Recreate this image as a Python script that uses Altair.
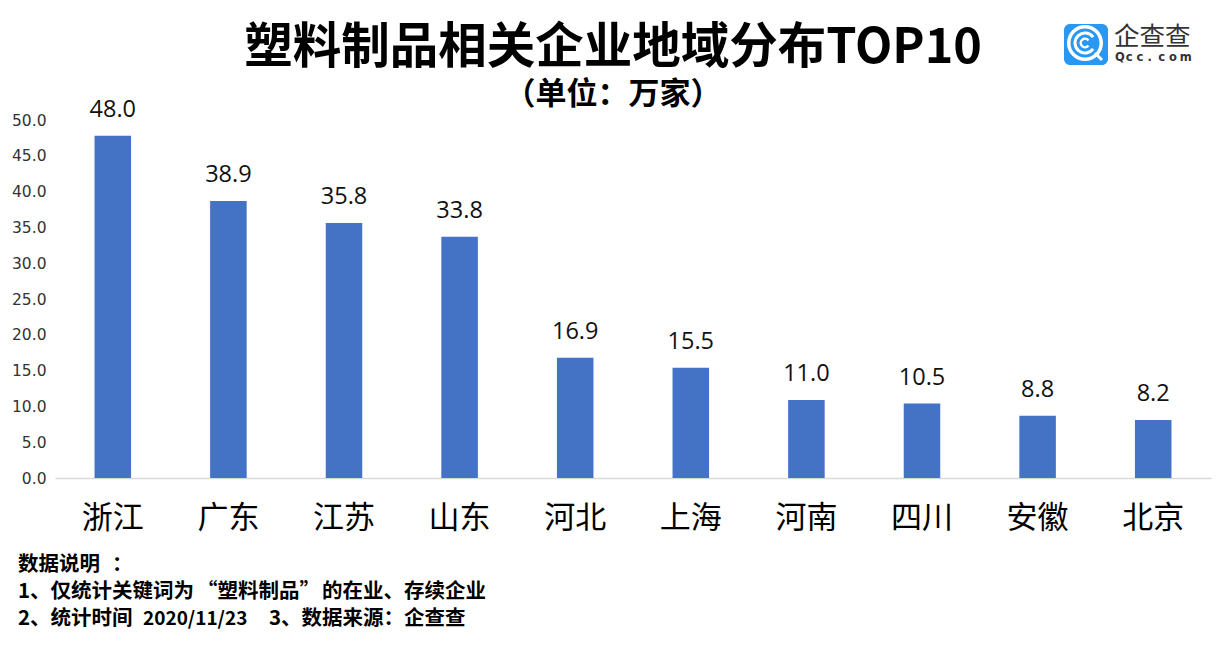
import altair as alt
import math
import pandas as pd

provinces = ["浙江", "广东", "江苏", "山东", "河北", "上海", "河南", "四川", "安徽", "北京"]
bar_values = [47.8, 38.7, 35.6, 33.7, 16.8, 15.4, 10.9, 10.4, 8.7, 8.1]
labels = ["48.0", "38.9", "35.8", "33.8", "16.9", "15.5", "11.0", "10.5", "8.8", "8.2"]
y_ticks = [0, 5, 10, 15, 20, 25, 30, 35, 40, 45, 50]
title_text = "塑料制品相关企业地域分布TOP10"
subtitle_text = "（单位：万家）"
note_pieces = [
    ("数据说明", -37, 445, "left", 20.5), ("：", 57, 445, "left", 20.5),
    ("1、仅统计关键词为", -37, 472, "left", 20.5), ("“塑", 183, 472, "right", 20.5), ("料制品”", 183, 472, "left", 20.5),
    ("的在业、存续企业", 267, 472, "left", 20.5),
    ("2、统计时间", -37, 499, "left", 20.5), ("2020/11/23", 88, 499, "left", 19), ("3、数据来源：企查查", 214, 499, "left", 20.5),
]
url_chars = list("Qcc.com")

CJK = "Noto Sans CJK SC"
df = pd.DataFrame({"province": provinces, "value": bar_values, "label": labels})

x = alt.X("province:N", sort=provinces, title=None,
          scale=alt.Scale(paddingInner=0.684, paddingOuter=0.342),
          axis=alt.Axis(labelAngle=0, labelFont=CJK, labelFontSize=31, labelColor="#000000",
                        labelPadding=25, ticks=False, domainColor="#d9d9d9", domainWidth=1.5, grid=False))
y = alt.Y("value:Q", title=None,
          scale=alt.Scale(domain=[0, 50], nice=False),
          axis=alt.Axis(values=y_ticks, format=".1f", labelFont="DejaVu Sans", labelFontSize=15.5,
                        labelColor="#333333", labelPadding=9, ticks=False, domain=False, grid=False,
                        labelOverlap=False, labelBound=False, labelFlush=False))

bars = alt.Chart(df).mark_bar(color="#4472C4").encode(x=x, y=y)
text = alt.Chart(df).mark_text(font="Open Sans", fontSize=23.5, color="#111111", baseline="middle", dy=-26).encode(
    x=x, y=y, text="label:N")


def label(content, px, py, size, weight="normal", align="left", font=CJK, color="#000000"):
    return alt.Chart(pd.DataFrame({"t": [content]})).mark_text(
        font=font, fontSize=size, fontWeight=weight, align=align, baseline="middle", color=color
    ).encode(x=alt.value(px), y=alt.value(py), text="t:N")


title = label(title_text, 558, -72, 48.5, "bold", "center")
subtitle = label(subtitle_text, 558, -25, 31, "bold", "center")
note_layers = [label(t, px, py, fs, "bold", al) for t, px, py, al, fs in note_pieces]


def one():
    return alt.Chart(pd.DataFrame({"a": [1]}))


def arc(r1, r2, t1, t2):
    return one().mark_arc(radius=r1, radius2=r2, theta=t1, theta2=t2, color="white").encode(
        x=alt.value(1030), y=alt.value(-77))


# logo
logo_bg = one().mark_rect(color="#2A98F2", cornerRadius=6).encode(
    x=alt.value(1009), x2=alt.value(1053), y=alt.value(-96), y2=alt.value(-55))
logo_ring = arc(18, 14.5, 0, 2 * math.pi)
logo_ring2 = arc(11.5, 8.5, 0.7 * math.pi, 2.3 * math.pi)
logo_dot = arc(5.5, 3, 0.7 * math.pi, 2.3 * math.pi)
logo_tail = one().mark_rule(color="white", strokeWidth=3).encode(
    x=alt.value(1040), x2=alt.value(1047), y=alt.value(-67), y2=alt.value(-60))
logo_name = label("企查查", 1059, -83, 25.5, "normal", color="#333333")
url_layers = [label(c, 1060 + i * 10.8, -62, 11.5, "bold", font="DejaVu Sans", color="#333333")
              for i, c in enumerate(url_chars)]

chart = alt.layer(bars, text, title, subtitle, *note_layers, logo_bg, logo_ring, logo_ring2, logo_dot, logo_tail,
                  logo_name, *url_layers).properties(
    width=1156, height=358,
    padding={"left": 47, "top": 112, "right": 4, "bottom": 165},
    autosize=alt.AutoSizeParams(type="none"),
    background="white",
).configure_view(stroke=None)

chart.save("out.html", embed_options={"renderer": "svg", "actions": False})
